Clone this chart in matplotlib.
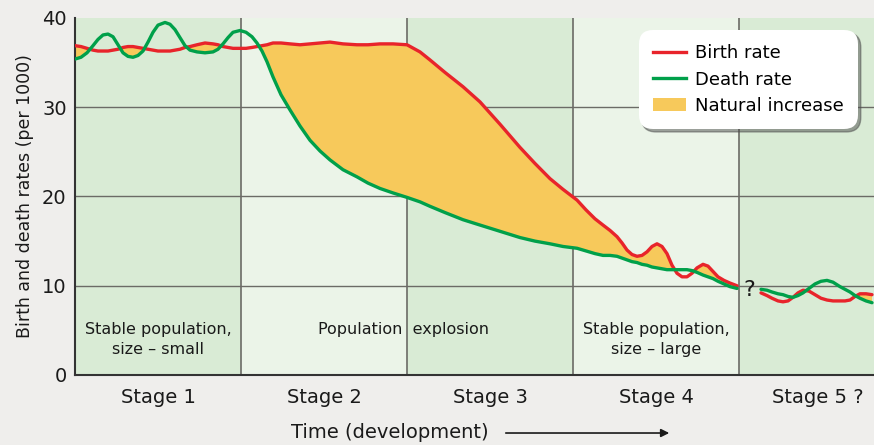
import matplotlib
matplotlib.use("Agg")
import matplotlib.pyplot as plt
from matplotlib.patches import Patch
from matplotlib.lines import Line2D
import numpy as np

# ---- data (positions read in picture pixels; stage k spans 166 px) ----
px_a = [75, 81, 87, 93, 98, 103, 108, 113, 118, 123, 128, 133, 138, 143, 148, 153, 158, 165, 170, 175,
        180, 185, 190, 197, 205, 213, 218, 223, 228, 233, 240, 246, 252, 257, 262, 267, 273, 281, 290, 300,
        310, 320, 330, 343, 357, 368, 380, 393, 407,
        420, 430, 445, 463, 480, 500, 520, 535, 550, 563, 577, 586, 595, 603, 610, 617, 622, 627, 632, 637,
        642, 647, 652, 657, 662, 667, 672, 677, 682, 687, 692, 697, 703, 708, 713, 718, 724, 730, 737]
birth_a = [36.9, 36.8, 36.6, 36.4, 36.3, 36.3, 36.3, 36.4, 36.5, 36.7, 36.8, 36.8, 36.7, 36.6, 36.5,
           36.4, 36.3, 36.3, 36.3, 36.4, 36.5, 36.7, 36.8, 37.0, 37.2, 37.1, 37.0, 36.8, 36.7, 36.6,
           36.6, 36.6, 36.7, 36.8, 36.9, 37.0, 37.2, 37.2, 37.1, 37.0, 37.1, 37.2, 37.3, 37.1, 37.0,
           37.0, 37.1, 37.1, 37.0,
           36.2, 35.3, 33.9, 32.3, 30.6, 28.1, 25.5, 23.7, 22.0, 20.8, 19.6, 18.5, 17.5, 16.8, 16.2,
           15.5, 14.8, 14.0, 13.5, 13.3, 13.4, 13.8, 14.4, 14.7, 14.4, 13.6, 12.3, 11.4, 11.0, 11.0,
           11.4, 12.0, 12.4, 12.2, 11.6, 11.0, 10.6, 10.3, 10.0]
death_a = [35.4, 35.6, 36.1, 36.9, 37.6, 38.1, 38.2, 37.9, 37.0, 36.1, 35.7, 35.6, 35.8, 36.3, 37.3,
           38.4, 39.2, 39.5, 39.3, 38.7, 37.8, 36.9, 36.4, 36.2, 36.1, 36.2, 36.5, 37.1, 37.8, 38.4,
           38.6, 38.4, 37.9, 37.2, 36.3, 35.1, 33.4, 31.4, 29.7, 27.9, 26.3, 25.1, 24.1, 23.0, 22.2,
           21.5, 20.9, 20.4, 19.9,
           19.4, 18.9, 18.2, 17.4, 16.8, 16.1, 15.4, 15.0, 14.7, 14.4, 14.2, 13.9, 13.6, 13.4, 13.4,
           13.3, 13.1, 12.9, 12.7, 12.6, 12.4, 12.3, 12.1, 12.0, 11.9, 11.8, 11.8, 11.8, 11.8, 11.8,
           11.7, 11.5, 11.2, 11.0, 10.8, 10.5, 10.2, 9.9, 9.7]
px_b = [761, 767, 772, 778, 783, 788, 793, 798, 803, 809, 815, 821, 827, 833, 840, 845, 850, 855, 860, 866, 872]
birth_b = [9.2, 8.9, 8.6, 8.3, 8.2, 8.3, 8.7, 9.2, 9.5, 9.4, 9.0, 8.6, 8.4, 8.3, 8.3, 8.3, 8.4, 8.8, 9.1, 9.1, 9.0]
death_b = [9.6, 9.5, 9.3, 9.1, 9.0, 8.8, 8.7, 8.9, 9.2, 9.7, 10.2, 10.5, 10.6, 10.4, 9.9, 9.6, 9.3, 8.9, 8.6, 8.3, 8.1]

stages = ["Stage 1", "Stage 2", "Stage 3", "Stage 4", "Stage 5 ?"]
yticks = [0, 10, 20, 30, 40]

STAGE_W = 166.0
def to_x(px):
    return (np.array(px, dtype=float) - 75) / STAGE_W

xa, xb = to_x(px_a), to_x(px_b)
birth_a, death_a = np.array(birth_a), np.array(death_a)
birth_b, death_b = np.array(birth_b), np.array(death_b)

RED = "#e8242b"
GREEN = "#00a04a"
FILL = "#f7c95b"
DARK_BG = "#d9ebd5"
LIGHT_BG = "#ebf4e8"

fig = plt.figure(figsize=(8.74, 4.45), dpi=100)
fig.patch.set_facecolor("#efeeec")
ax = fig.add_axes([75/874, 70/445, 1 - 75/874, (375-18)/445])
xmax = (874 - 75) / STAGE_W
ax.set_xlim(0, xmax)
ax.set_ylim(0, 40)

for i in range(5):
    ax.axvspan(i, i + 1, color=DARK_BG if i % 2 == 0 else LIGHT_BG, zorder=0, lw=0)
for i in range(1, 5):
    ax.axvline(i, color="#6b6b66", lw=1.2, zorder=1)
for y in [10, 20, 30]:
    ax.axhline(y, color="#6b6b66", lw=1.0, zorder=1)

ax.fill_between(xa, birth_a, death_a, where=birth_a > death_a, interpolate=True,
                color=FILL, lw=0, zorder=2)
ax.fill_between(xb, birth_b, death_b, where=birth_b > death_b, interpolate=True,
                color=FILL, lw=0, zorder=2)
for x, b, d in [(xa, birth_a, death_a), (xb, birth_b, death_b)]:
    ax.plot(x, b, color=RED, lw=2.4, zorder=3, solid_joinstyle="round", solid_capstyle="round")
    ax.plot(x, d, color=GREEN, lw=2.4, zorder=4, solid_joinstyle="round", solid_capstyle="round")

for s in ["top", "right"]:
    ax.spines[s].set_visible(False)
for s in ["left", "bottom"]:
    ax.spines[s].set_color("#333333")
    ax.spines[s].set_linewidth(1.5)

ax.set_yticks(yticks)
ax.set_yticklabels([str(v) for v in yticks], fontsize=14, color="#1a1a1a")
ax.tick_params(axis="y", length=0, pad=6)
ax.set_xticks([])
ax.set_ylabel("Birth and death rates (per 1000)", fontsize=12.5, color="#1a1a1a", labelpad=6)

centers = [0.5, 1.5, 2.5, 3.5, to_x([818])[0]]
for c, s in zip(centers, stages):
    ax.text(c, -2.5, s, ha="center", va="center", fontsize=14, color="#1a1a1a")
ax.text(to_x([390])[0], -6.4, "Time (development)", ha="center", va="center",
        fontsize=14, color="#1a1a1a")
ax.annotate("", xy=(to_x([672])[0], -6.5), xytext=(to_x([503])[0], -6.5),
            arrowprops=dict(arrowstyle="-|>", color="#1a1a1a", lw=1.2, mutation_scale=12),
            annotation_clip=False)

tk = dict(ha="center", va="center", fontsize=11.5, color="#1a1a1a", zorder=5)
ax.text(0.5, 4.0, "Stable population,\nsize \u2013 small", linespacing=1.4, **tk)
ax.text(to_x([404])[0], 5.1, "Population  explosion", **tk)
ax.text(3.5, 4.0, "Stable population,\nsize \u2013 large", linespacing=1.4, **tk)
ax.text(to_x([749])[0], 9.5, "?", ha="center", va="center", fontsize=16, color="#1a1a1a", zorder=5)

handles = [Line2D([], [], color=RED, lw=2.4), Line2D([], [], color=GREEN, lw=2.4),
           Patch(facecolor=FILL, edgecolor="none")]
leg = ax.legend(handles, ["Birth rate", "Death rate", "Natural increase"],
                loc="upper right", bbox_to_anchor=(858/874, 1 - 30/445), bbox_transform=fig.transFigure,
                borderaxespad=0, fontsize=13, frameon=True, fancybox=True, shadow=True, framealpha=1,
                handlelength=1.8, handletextpad=0.5, labelspacing=0.45, borderpad=0.8)
leg.get_frame().set_edgecolor("none")
leg.get_frame().set_facecolor("white")
leg.get_frame().set_boxstyle("round", pad=0, rounding_size=0.8)
leg.set_zorder(10)

fig.savefig("out.png", dpi=100, facecolor=fig.get_facecolor())
